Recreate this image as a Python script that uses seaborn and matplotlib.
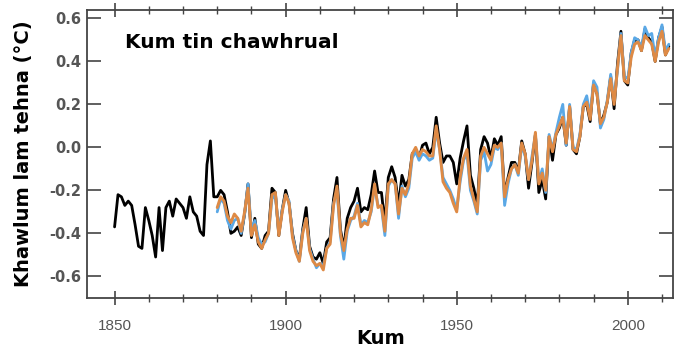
import numpy as np
import pandas as pd
import matplotlib
matplotlib.use("Agg")
import matplotlib.pyplot as plt
import seaborn as sns

# annual temperature anomaly (degC), three records
years_long = list(range(1850, 2013))
years_short = list(range(1880, 2013))

black_vals = [
    -0.37, -0.22, -0.23, -0.27, -0.25, -0.27, -0.36, -0.46, -0.47, -0.28,
    -0.34, -0.41, -0.51, -0.28, -0.48, -0.28, -0.25, -0.32, -0.24, -0.26,
    -0.28, -0.33, -0.23, -0.30, -0.32, -0.39, -0.41, -0.08, 0.03, -0.23,
    -0.23, -0.20, -0.22, -0.30, -0.40, -0.39, -0.37, -0.41, -0.31, -0.17,
    -0.42, -0.33, -0.45, -0.47, -0.41, -0.39, -0.19, -0.21, -0.41, -0.29,
    -0.20, -0.26, -0.40, -0.48, -0.52, -0.38, -0.28, -0.46, -0.51, -0.52,
    -0.49, -0.54, -0.44, -0.42, -0.24, -0.14, -0.38, -0.47, -0.33, -0.28,
    -0.25, -0.19, -0.30, -0.28, -0.29, -0.22, -0.11, -0.21, -0.21, -0.35,
    -0.14, -0.09, -0.14, -0.27, -0.13, -0.18, -0.15, -0.03, -0.01, -0.05,
    0.01, 0.02, -0.03, 0.00, 0.14, 0.02, -0.07, -0.04, -0.04, -0.07,
    -0.17, -0.05, 0.03, 0.10, -0.13, -0.19, -0.27, -0.01, 0.05, 0.02,
    -0.05, 0.04, 0.01, 0.05, -0.22, -0.14, -0.07, -0.07, -0.11, 0.03,
    -0.03, -0.19, -0.07, 0.06, -0.21, -0.15, -0.24, 0.05, -0.06, 0.06,
    0.09, 0.14, 0.01, 0.19, -0.01, -0.03, 0.05, 0.19, 0.20, 0.12,
    0.30, 0.25, 0.11, 0.15, 0.21, 0.33, 0.18, 0.39, 0.54, 0.31,
    0.29, 0.44, 0.50, 0.50, 0.45, 0.55, 0.51, 0.49, 0.40, 0.51,
    0.56, 0.43, 0.47,
]

blue_vals = [
    -0.30, -0.24, -0.26, -0.34, -0.38, -0.34, -0.33, -0.40, -0.31, -0.17,
    -0.39, -0.34, -0.42, -0.45, -0.44, -0.40, -0.24, -0.22, -0.40, -0.29,
    -0.22, -0.25, -0.41, -0.48, -0.53, -0.39, -0.33, -0.47, -0.52, -0.56,
    -0.54, -0.55, -0.47, -0.44, -0.26, -0.20, -0.41, -0.52, -0.39, -0.34,
    -0.32, -0.26, -0.36, -0.34, -0.35, -0.30, -0.18, -0.27, -0.28, -0.41,
    -0.18, -0.15, -0.17, -0.33, -0.18, -0.23, -0.19, -0.05, -0.02, -0.06,
    -0.03, -0.04, -0.06, -0.05, 0.08, -0.01, -0.14, -0.17, -0.20, -0.24,
    -0.29, -0.16, -0.06, -0.03, -0.20, -0.25, -0.31, -0.06, -0.02, -0.11,
    -0.08, 0.00, -0.01, 0.02, -0.27, -0.17, -0.10, -0.08, -0.13, 0.01,
    -0.04, -0.15, -0.04, 0.06, -0.16, -0.10, -0.21, 0.06, -0.01, 0.07,
    0.14, 0.20, 0.01, 0.20, 0.00, -0.01, 0.06, 0.20, 0.24, 0.15,
    0.31, 0.28, 0.09, 0.13, 0.22, 0.34, 0.22, 0.36, 0.53, 0.33,
    0.32, 0.44, 0.51, 0.50, 0.46, 0.56, 0.52, 0.53, 0.42, 0.51,
    0.57, 0.45, 0.48,
]

orange_vals = [
    -0.28, -0.23, -0.25, -0.32, -0.35, -0.31, -0.33, -0.39, -0.30, -0.19,
    -0.41, -0.36, -0.44, -0.47, -0.43, -0.40, -0.22, -0.21, -0.41, -0.30,
    -0.22, -0.26, -0.42, -0.49, -0.53, -0.40, -0.33, -0.48, -0.53, -0.55,
    -0.54, -0.57, -0.47, -0.45, -0.27, -0.18, -0.40, -0.48, -0.38, -0.33,
    -0.33, -0.27, -0.37, -0.35, -0.36, -0.29, -0.17, -0.28, -0.27, -0.39,
    -0.17, -0.15, -0.17, -0.31, -0.19, -0.22, -0.17, -0.03, 0.00, -0.04,
    -0.01, -0.02, -0.04, -0.04, 0.10, -0.01, -0.16, -0.19, -0.21, -0.26,
    -0.30, -0.14, -0.05, -0.01, -0.18, -0.24, -0.30, -0.04, 0.00, -0.03,
    -0.06, 0.01, 0.00, 0.02, -0.23, -0.15, -0.10, -0.08, -0.12, 0.02,
    -0.03, -0.15, -0.06, 0.07, -0.17, -0.12, -0.20, 0.05, -0.02, 0.06,
    0.10, 0.14, 0.02, 0.19, -0.01, -0.02, 0.05, 0.19, 0.21, 0.13,
    0.29, 0.25, 0.11, 0.14, 0.21, 0.32, 0.20, 0.37, 0.52, 0.31,
    0.30, 0.42, 0.48, 0.49, 0.45, 0.52, 0.50, 0.48, 0.40, 0.49,
    0.54, 0.43, 0.46,
]

title = "Kum tin chawhrual"
xlabel = "Kum"
ylabel = "Khawlum lam tehna (\u00b0C)"

black_df = pd.DataFrame({"year": years_long, "anomaly": black_vals})
blue_df = pd.DataFrame({"year": years_short, "anomaly": blue_vals})
orange_df = pd.DataFrame({"year": years_short, "anomaly": orange_vals})

sns.set_style("ticks")
plt.rcParams["font.family"] = ["DejaVu Sans"]

fig = plt.figure(figsize=(6.76, 3.5), dpi=100)
ax = fig.add_axes([0.129, 0.149, 0.867, 0.823])

sns.lineplot(data=black_df, x="year", y="anomaly", color="black", linewidth=2.0, ax=ax)
sns.lineplot(data=blue_df, x="year", y="anomaly", color="#5aa8e6", linewidth=2.0, ax=ax)
sns.lineplot(data=orange_df, x="year", y="anomaly", color="#de8a45", linewidth=2.1, ax=ax)

ax.set_xlim(1842, 2013.3)
ax.set_ylim(-0.70, 0.64)

ax.set_xticks([1850, 1900, 1950, 2000])
ax.set_xticks(np.arange(1850, 2011, 10), minor=True)
ax.set_yticks([-0.6, -0.4, -0.2, 0.0, 0.2, 0.4, 0.6])
ax.set_yticklabels([f"{v:.1f}" for v in ax.get_yticks()])

for s in ax.spines.values():
    s.set_visible(True)
    s.set_color("#444444")
    s.set_linewidth(1.3)

ax.tick_params(axis="y", which="major", direction="in", length=10, width=1.2,
               right=True, color="#444444", labelsize=10.5, labelcolor="#555555", pad=4)
ax.tick_params(axis="x", which="major", direction="inout", length=10, width=1.2,
               top=True, color="#444444", labelsize=11, labelcolor="#555555", pad=10)
ax.tick_params(axis="x", which="minor", direction="inout", length=6, width=1.0,
               top=True, color="#444444")
for lab in ax.get_yticklabels():
    lab.set_fontweight("bold")
for lab in ax.get_xticklabels():
    lab.set_family("Liberation Sans")

ax.set_xlabel(xlabel, fontsize=14, fontweight="bold", labelpad=-3, color="black")
ax.set_ylabel(ylabel, fontsize=14, fontweight="bold", labelpad=12, color="black")
ax.text(0.065, 0.885, title, transform=ax.transAxes, fontsize=14.5,
        fontweight="bold", va="center", ha="left", color="black")

fig.savefig("out.png", dpi=100)
